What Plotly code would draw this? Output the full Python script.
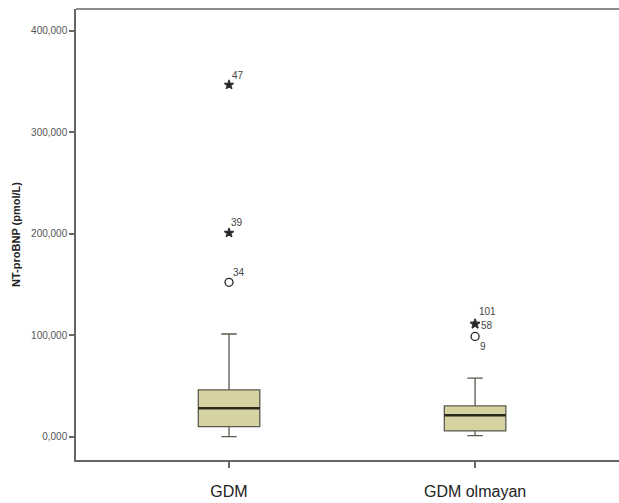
import plotly.graph_objects as go

groups = ["GDM", "GDM olmayan"]
q1 = [10200, 5900]
median = [28300, 21400]
q3 = [46400, 30600]
lower = [300, 1300]
upper = [101400, 58000]

out_group = [0, 0, 0, 1, 1, 1]
out_value = [346800, 201000, 152300, 111300, 111300, 99000]
out_id = ["47", "39", "34", "101", "58", "9"]
out_kind = ["extreme", "extreme", "outlier", "extreme", "extreme", "outlier"]
label_shift = [(9, 9), (8, 10), (10, 10), (12, 12), (12, -2), (8, -10)]

y_ticks = [0, 100000, 200000, 300000, 400000]
y_ticktext = ["0,000", "100,000", "200,000", "300,000", "400,000"]

FONT = "Arial, Liberation Sans, sans-serif"
box_w = 0.25

fig = go.Figure()
fig.add_trace(go.Box(
    x=[0, 1], q1=q1, median=median, q3=q3,
    lowerfence=lower, upperfence=upper,
    width=box_w, whiskerwidth=0.25,
    fillcolor="#d7d2a1", line=dict(color="#5a5a50", width=1.3),
    boxpoints=False, showlegend=False, hoverinfo="skip",
))
# darker median lines
for i, m in enumerate(median):
    fig.add_trace(go.Scatter(
        x=[i - box_w / 2, i + box_w / 2], y=[m, m], mode="lines",
        line=dict(color="#2b2a1c", width=2.4), showlegend=False, hoverinfo="skip",
    ))

for kind, sym, sz in [("extreme", "star", 7), ("outlier", "circle-open", 8)]:
    xs = [g for g, k in zip(out_group, out_kind) if k == kind]
    ys = [v for v, k in zip(out_value, out_kind) if k == kind]
    fig.add_trace(go.Scatter(
        x=xs, y=ys, mode="markers",
        marker=dict(symbol=sym, size=sz, color="#222",
                    line=dict(color="#333", width=1.3)),
        showlegend=False, hoverinfo="skip",
    ))

for g, v, t, (dx, dy) in zip(out_group, out_value, out_id, label_shift):
    fig.add_annotation(x=g, y=v, text=t, showarrow=False, xshift=dx, yshift=dy,
                       font=dict(family=FONT, size=10, color="#444"))

# top frame line
fig.add_shape(type="line", xref="paper", yref="paper", x0=0, x1=1, y0=1, y1=1,
              line=dict(color="#666", width=1.5))

fig.update_layout(
    width=619, height=503,
    margin=dict(l=76, r=0, t=9, b=43, autoexpand=False),
    paper_bgcolor="white", plot_bgcolor="white",
    font=dict(family=FONT),
    xaxis=dict(
        range=[-0.622, 1.585], tickvals=[0, 1], ticktext=groups,
        showline=True, mirror=False, linecolor="#666", linewidth=1.5,
        ticks="outside", ticklen=6, tickcolor="#666", tickwidth=1.5,
        showgrid=False, zeroline=False, ticklabelstandoff=10, automargin=False,
        tickfont=dict(family=FONT, size=16, color="#222"),
    ),
    yaxis=dict(
        range=[-22700, 421500], tickvals=y_ticks, ticktext=y_ticktext,
        showline=True, mirror=False, linecolor="#666", linewidth=1.5,
        ticks="outside", ticklen=5, tickcolor="#666", tickwidth=1.5,
        showgrid=False, zeroline=False, automargin=False,
        tickfont=dict(family=FONT, size=10, color="#555"),
        title=dict(text="<b>NT-proBNP (pmol/L)</b>", standoff=8,
                   font=dict(family=FONT, size=11, color="#222")),
    ),
)

fig.write_html(
    "out.html",
    config={"displayModeBar": False},
    post_script="document.body.style.margin='0';document.body.style.overflow='hidden';",
)
